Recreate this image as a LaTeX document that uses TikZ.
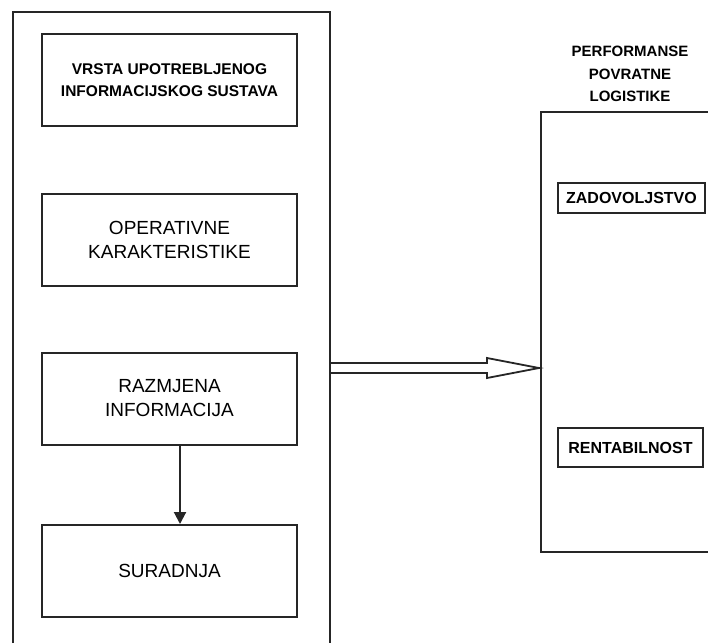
\documentclass[tikz,border=0pt]{standalone}
\usepackage{fontspec}
\setmainfont{Liberation Sans}
\usetikzlibrary{arrows.meta,calc}
\begin{document}
\begin{tikzpicture}[x=1pt,y=-1pt,
  line/.style={draw=black!85, line width=2pt},
  lbox/.style={line, rectangle, minimum width=255pt, minimum height=92pt, align=center, inner sep=0pt},
  sbox/.style={line, rectangle, minimum height=30pt, align=center, inner sep=0pt},
  bigtxt/.style={font=\fontsize{19}{24}\selectfont},
  smalltxt/.style={font=\fontsize{15.5}{22}\selectfont\bfseries},
  rtxt/.style={font=\fontsize{15}{22.5}\selectfont\bfseries, align=center}
]
\useasboundingbox (0,0) rectangle (708,643);
% containers
\coordinate (Ltop) at (13,12);
\coordinate (Rtop) at (541,112);
\draw[line] (13,643) -- (Ltop) -- (330,12) -- (330,643);
\draw[line] (708,112) -- (Rtop) -- (541,552) -- (708,552);
\coordinate (Lout) at (330,368);
\coordinate (Rin) at (539,368);
% left boxes
\node[lbox, smalltxt] (b1) at (169.5,80) {VRSTA UPOTREBLJENOG\\INFORMACIJSKOG SUSTAVA};
\node[lbox, bigtxt] (b2) at (169.5,240) {OPERATIVNE\\KARAKTERISTIKE};
\node[lbox, bigtxt] (b3) at (169.5,398.5) {RAZMJENA\\INFORMACIJA};
\node[lbox, bigtxt] (b4) at (169.5,571) {SURADNJA};
\draw[line, -{Triangle[length=12pt,width=12pt]}] (b3.south -| 180,0) -- (b4.north -| 180,0);
% right side
\node[rtxt] (title) at (630,74) {PERFORMANSE\\POVRATNE\\LOGISTIKE};
\node[sbox, minimum width=147pt, font=\fontsize{16}{20}\selectfont\bfseries] (z) at (631.5,198) {ZADOVOLJSTVO};
\node[sbox, minimum width=145pt, minimum height=39pt, font=\fontsize{16}{20}\selectfont\bfseries] (r) at (630.5,447.5) {RENTABILNOST};
% hollow arrow
\draw[line, line width=1.8pt, line join=miter]
  ($(Lout)+(0,-5)$) -- ($(Rin)+(-52,-5)$) -- ($(Rin)+(-52,-10)$) -- (Rin)
  -- ($(Rin)+(-52,10)$) -- ($(Rin)+(-52,5)$) -- ($(Lout)+(0,5)$);
\end{tikzpicture}
\end{document}
